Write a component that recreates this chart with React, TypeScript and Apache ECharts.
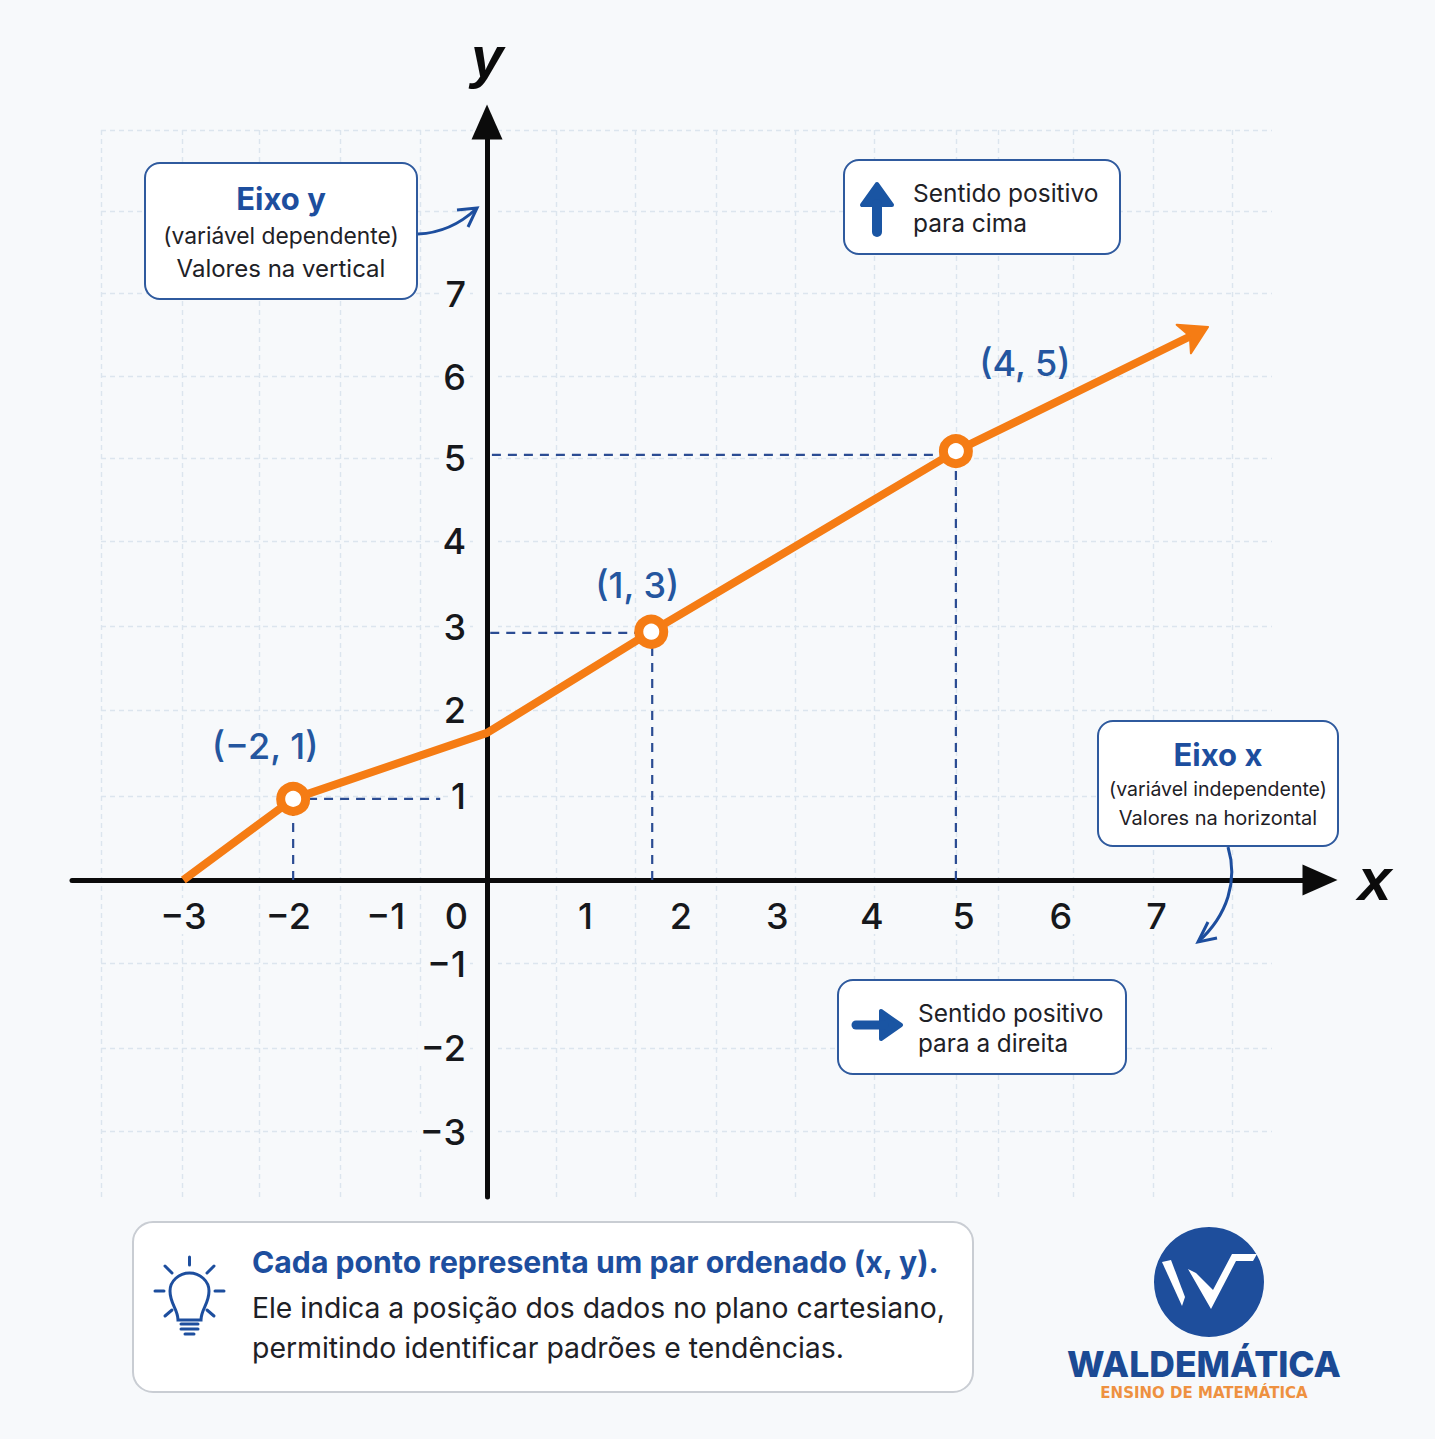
import React, { useEffect, useRef } from 'react';
import * as echarts from 'echarts';

// values, in axis units (the source picture's ticks are not evenly placed)
const lineX = [-3.18, -2.03, 0, 1.72, 4.91, 7.43];
const lineY = [0, 0.97, 1.76, 2.97, 5.13, 6.54];
const pointLabels = ['', '(\u22122, 1)', '', '(1, 3)', '(4, 5)', ''];
const arrowTip = [7.55, 6.615];

const dropA = [[-2.03, 0], [-2.03, 0.97], [-0.49, 0.97]];
const dropB = [[1.73, 0], [1.73, 2.955], [0, 2.955]];
const dropC = [[4.91, 0], [4.91, 5.084], [0, 5.084]];

const xTickPositions = [-3.18, -2.08, -1.06, -0.32, 1.03, 2.03, 3.04, 4.03, 4.99, 6.01, 7.01];
const xTickLabels = ['\u22123', '\u22122', '\u22121', '0', '1', '2', '3', '4', '5', '6', '7'];
const yTickPositions = [-3.01, -2.01, -1, 1, 2.03, 3.03, 4.05, 5.05, 6.02, 7.01];
const yTickLabels = ['\u22123', '\u22122', '\u22121', '1', '2', '3', '4', '5', '6', '7'];

const gridXValues = [-4.04, -3.19, -2.38, -1.54, -0.7, 0.73, 1.55, 2.4, 3.23, 4.06, 4.91, 5.35, 6.14, 6.98, 7.8];
const gridYValues = [-3.01, -2.01, -1, 1, 2.03, 3.03, 4.05, 5.05, 6.02, 7.02, 8, 8.97];

const BG = '#F7F9FB';
const BLUE = '#1D4E9E';
const BORDER = '#2F5A9E';
const ORANGE = '#F57C14';
const DASH = '#2B4C93';
const FONT = 'Inter';

echarts.graphic.registerShape(
  'bulb',
  echarts.graphic.extendPath(
    'M178 1320 C178 1309 170 1304 170 1291 C170 1281 179 1273 189.5 1273 C200 1273 209 1281 209 1291 C209 1304 201 1309 201 1320 Z',
    {}
  )
);

const label = (text: string, x: number, y: number, size: number, fill = '#1E2126', weight: any = 400, align = 'center', family = FONT) => ({
  type: 'text',
  z: 11,
  style: { text, x, y, fill, fontSize: size, fontWeight: weight, fontFamily: family, align, verticalAlign: 'middle' },
});

const box = (x: number, y: number, width: number, height: number, r = 15, stroke = BORDER) => ({
  type: 'rect',
  z: 10,
  shape: { x, y, width, height, r },
  style: { fill: '#FFFFFF', stroke, lineWidth: 2 },
});

const seg = (x1: number, y1: number, x2: number, y2: number, lineWidth = 3) => ({
  type: 'line',
  z: 11,
  shape: { x1, y1, x2, y2 },
  style: { stroke: BLUE, lineWidth, lineCap: 'round' },
});

const buildGraphics = () => [
  // gap in the grid round the y axis
  { type: 'rect', z: 1, shape: { x: 473, y: 125, width: 25, height: 1075 }, style: { fill: BG } },

  box(145, 163, 272, 136),
  label('Eixo y', 281, 198, 31, BLUE, 700),
  label('(vari\u00E1vel dependente)', 281, 235, 22.8),
  label('Valores na vertical', 281, 268, 24),
  {
    type: 'bezierCurve',
    z: 11,
    shape: { x1: 418, y1: 234, x2: 476, y2: 209, cpx1: 440, cpy1: 233, cpx2: 460, cpy2: 224 },
    style: { stroke: BLUE, lineWidth: 3, fill: 'none' },
  },
  { type: 'polyline', z: 11, shape: { points: [[457, 210], [477, 208], [468, 227]] }, style: { stroke: BLUE, lineWidth: 3, fill: 'none' } },

  box(844, 160, 276, 94),
  { type: 'polygon', z: 11, shape: { points: [[877, 184], [862, 205], [892, 205]] }, style: { fill: '#1A55A3', stroke: '#1A55A3', lineWidth: 4, lineJoin: 'round' } },
  { type: 'line', z: 11, shape: { x1: 877, y1: 204, x2: 877, y2: 232 }, style: { stroke: '#1A55A3', lineWidth: 10, lineCap: 'round' } },
  label('Sentido positivo', 913, 193, 24.5, '#1E2126', 400, 'left'),
  label('para cima', 913, 223, 24.5, '#1E2126', 400, 'left'),

  box(1098, 721, 240, 125),
  label('Eixo x', 1218, 754, 31, BLUE, 700),
  label('(vari\u00E1vel independente)', 1218, 789, 19.5),
  label('Valores na horizontal', 1218, 818, 20),
  {
    type: 'bezierCurve',
    z: 11,
    shape: { x1: 1228, y1: 847, x2: 1198, y2: 942, cpx1: 1238, cpy1: 880, cpx2: 1228, cpy2: 915 },
    style: { stroke: BLUE, lineWidth: 3, fill: 'none' },
  },
  { type: 'polyline', z: 11, shape: { points: [[1208, 922], [1198, 942], [1217, 938]] }, style: { stroke: BLUE, lineWidth: 3, fill: 'none' } },

  box(838, 980, 288, 94),
  { type: 'polygon', z: 11, shape: { points: [[901, 1025], [881, 1011], [881, 1039]] }, style: { fill: '#1A55A3', stroke: '#1A55A3', lineWidth: 4, lineJoin: 'round' } },
  { type: 'line', z: 11, shape: { x1: 856, y1: 1025, x2: 884, y2: 1025 }, style: { stroke: '#1A55A3', lineWidth: 9, lineCap: 'round' } },
  label('Sentido positivo', 918, 1013, 24.5, '#1E2126', 400, 'left'),
  label('para a direita', 918, 1043, 24.3, '#1E2126', 400, 'left'),

  // bottom note
  box(133, 1222, 840, 170, 20, '#C9CDD3'),
  { type: 'bulb', z: 11, style: { fill: 'none', stroke: BLUE, lineWidth: 3 } },
  seg(181, 1324, 198, 1324),
  seg(181, 1329, 198, 1329),
  seg(185, 1334, 194, 1334),
  seg(189.5, 1257, 189.5, 1265),
  seg(165, 1266, 172, 1273),
  seg(214, 1266, 207, 1273),
  seg(155, 1291, 164, 1291),
  seg(215, 1291, 224, 1291),
  seg(165, 1316, 172, 1310),
  seg(214, 1316, 207, 1310),
  label('Cada ponto representa um par ordenado (x, y).', 252, 1262, 30.2, BLUE, 700, 'left'),
  label('Ele indica a posi\u00E7\u00E3o dos dados no plano cartesiano,', 252, 1308, 28.3, '#1E2126', 400, 'left'),
  label('permitindo identificar padr\u00F5es e tend\u00EAncias.', 252, 1347, 28.4, '#1E2126', 400, 'left'),

  // logo
  { type: 'circle', z: 10, shape: { cx: 1209, cy: 1282, r: 55 }, style: { fill: '#1E4E9C' } },
  {
    type: 'polygon',
    z: 11,
    shape: { points: [[1162, 1262], [1171, 1260], [1185, 1297], [1182, 1306]] },
    style: { fill: '#FFFFFF' },
  },
  {
    type: 'polygon',
    z: 11,
    shape: { points: [[1188, 1269], [1196, 1273], [1213, 1290], [1232, 1254], [1257, 1254], [1253, 1261], [1236, 1261], [1211, 1309]] },
    style: { fill: '#FFFFFF' },
  },
  label('WALDEM\u00C1TICA', 1204, 1364, 35.5, '#1B4A94', 800, 'center', 'Inter'),
  label('ENSINO DE MATEM\u00C1TICA', 1204, 1393, 15, '#EE9140', 700, 'center', 'DejaVu Sans'),
];

export default function App() {
  const chartRef = useRef<HTMLDivElement>(null);

  useEffect(() => {
    if (!chartRef.current) return;
    const chart = echarts.init(chartRef.current, undefined, { renderer: 'svg' });

    const gridLine = { show: true, lineStyle: { color: '#DCE5EE', width: 1.4, type: [5, 4] as any } };
    const hiddenAxis = {
      axisLine: { show: false },
      axisLabel: { show: false },
      silent: true,
    };
    const tickText = { color: '#16181C', fontSize: 36, fontWeight: 500, fontFamily: FONT, backgroundColor: BG, padding: [0, 3] };

    const mainData = lineX.map((x, i) => {
      if (pointLabels[i] === '') return { value: [x, lineY[i]], symbol: 'none' };
      return {
        value: [x, lineY[i]],
        symbol: 'circle',
        symbolSize: 25,
        itemStyle: { color: '#FFFFFF', borderColor: ORANGE, borderWidth: 9 },
        label: {
          show: true,
          formatter: pointLabels[i],
          position: 'top',
          offset: i === 1 ? [-28, -13] : i === 3 ? [-14, -7] : [69, -48],
          color: '#24569F',
          fontSize: 36,
          fontFamily: FONT,
          fontWeight: 500,
        },
      };
    });

    const dropSeries = [dropA, dropB, dropC].map((d, i) => ({
      type: 'line',
      name: `drop${i}`,
      xAxisIndex: 1,
      yAxisIndex: 1,
      z: 1.8,
      data: d,
      symbol: 'none',
      lineStyle: { color: DASH, width: 2.2, type: [9, 7] as any },
    }));

    chart.setOption({
      animation: false,
      backgroundColor: BG,
      grid: [
        { left: 101, right: 163, top: 130, bottom: 242 },
        { left: 72, right: 115, top: 122, bottom: 242 },
      ],
      xAxis: [
        {
          ...hiddenAxis,
          type: 'value',
          gridIndex: 0,
          min: -4.042,
          max: 8.22,
          axisTick: { show: false, customValues: gridXValues },
          splitLine: gridLine,
        },
        {
          type: 'value',
          gridIndex: 1,
          min: -4.346,
          max: 8.723,
          z: 1.5,
          name: 'x',
          nameLocation: 'end',
          nameGap: 38,
          nameTextStyle: { color: '#0B0B0B', fontSize: 60, fontWeight: 700, fontStyle: 'italic', fontFamily: 'Liberation Sans', verticalAlign: 'middle', align: 'left', padding: [0, 0, 8, 0] },
          axisLine: { onZero: true, symbol: ['none', 'triangle'], symbolSize: [31, 35], lineStyle: { color: '#0B0B0B', width: 5 } },
          axisTick: { show: false },
          splitLine: { show: false },
          axisLabel: {
            ...tickText,
            margin: -299,
            customValues: xTickPositions,
            formatter: (v: number) => xTickLabels[xTickPositions.indexOf(v)],
          },
        },
      ],
      yAxis: [
        {
          ...hiddenAxis,
          type: 'value',
          gridIndex: 0,
          min: -3.792,
          max: 8.971,
          axisTick: { show: false, customValues: gridYValues },
          splitLine: gridLine,
        },
        {
          type: 'value',
          gridIndex: 1,
          min: -3.792,
          max: 9.067,
          z: 1.5,
          name: 'y',
          nameLocation: 'end',
          nameGap: 37,
          nameTextStyle: { color: '#0B0B0B', fontSize: 58, fontWeight: 700, fontStyle: 'italic', fontFamily: 'Liberation Sans', align: 'center', verticalAlign: 'bottom' },
          axisLine: { onZero: true, symbol: ['none', 'triangle'], symbolSize: [31, 35], lineStyle: { color: '#0B0B0B', width: 5 } },
          axisTick: { show: false },
          splitLine: { show: false },
          axisLabel: {
            ...tickText,
            margin: -397,
            customValues: yTickPositions,
            formatter: (v: number) => yTickLabels[yTickPositions.indexOf(v)],
          },
        },
      ],
      graphic: buildGraphics(),
      series: [
        ...dropSeries,
        {
          type: 'line',
          name: 'line',
          xAxisIndex: 1,
          yAxisIndex: 1,
          z: 2,
          data: mainData,
          showSymbol: true,
          showAllSymbol: true,
          clip: false,
          lineStyle: { color: ORANGE, width: 8, cap: 'butt', join: 'round' },
          markPoint: {
            silent: true,
            label: { show: false },
            data: [
              {
                coord: arrowTip,
                symbol: 'arrow',
                symbolSize: [24, 27],
                symbolRotate: -63.5,
                itemStyle: { color: ORANGE, borderColor: ORANGE, borderWidth: 2, borderJoin: 'round' },
              },
            ],
          },
        },
      ],
    } as any);

    return () => {
      chart.dispose();
    };
  }, []);

  return <div ref={chartRef} style={{ position: 'absolute', left: 0, top: 0, width: 1435, height: 1439 }} />;
}
